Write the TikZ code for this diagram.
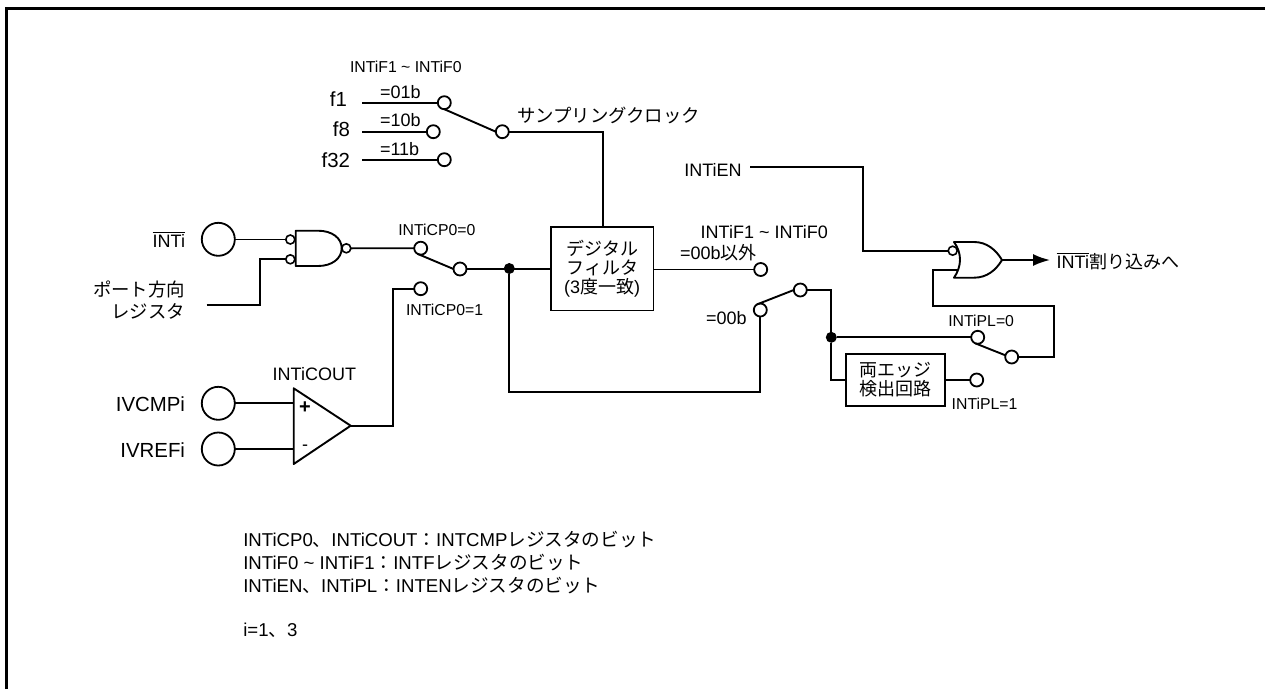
\documentclass[tikz,border=0pt]{standalone}
\usepackage{fontspec}
\setmainfont{Liberation Sans}
\newfontfamily\cjk{Noto Sans CJK JP}
\usetikzlibrary{arrows.meta}
\newcommand{\jp}[1]{{\cjk #1}}
\newcommand{\ovl}[1]{\leavevmode\vbox{\hrule height 1pt \kern 1.6pt \hbox{#1}}}
\tikzset{
  wire/.style={line width=1.9pt,line join=miter},
  term/.style={circle,draw,line width=1.8pt,fill=white,minimum size=13pt,inner sep=0pt,outer sep=0pt},
  pad/.style={circle,draw,line width=1.8pt,minimum size=33pt,inner sep=0pt,outer sep=0pt},
  bubble/.style={circle,draw,line width=1.6pt,fill=white,minimum size=9pt,inner sep=0pt,outer sep=0pt},
  dotj/.style={circle,fill=black,minimum size=11pt,inner sep=0pt,outer sep=0pt},
  box/.style={draw,line width=1.9pt,inner sep=0pt,outer sep=0pt,align=center,font=\fontsize{18}{19}\selectfont},
  lab/.style={inner sep=0pt,outer sep=0pt,anchor=base west,font=\fontsize{18}{20}\selectfont},
  labr/.style={lab,anchor=base east},
  biglab/.style={labr,font=\fontsize{20.4}{22}\selectfont},
  jplab/.style={labr,font=\fontsize{18.4}{20}\selectfont},
  notelab/.style={lab,font=\fontsize{18.6}{20}\selectfont},
  slab/.style={lab,font=\fontsize{15.8}{18}\selectfont},
  gate/.style={line width=1.9pt,line join=round,fill=white},
}
\begin{document}
\begin{tikzpicture}[x=1pt,y=-1pt]
\useasboundingbox (0,0) rectangle (1265,689);
\fill[white] (0,0) rectangle (1265,689);
% frame
\coordinate (fa) at (6.5,689); \coordinate (fb) at (6.5,8.5); \coordinate (fc) at (1265,8.5);
\draw[line width=3.2pt,line join=miter] (fa) -- (fb) -- (fc);

% clock selector
\node[slab] (tfhead) at (350,72.3) {INTiF1 \textasciitilde{} INTiF0};
\node[biglab] (tf1) at (347,106.7) {f1};
\node[biglab] (tf8) at (350,136.7) {f8};
\node[biglab] (tf32) at (350,167) {f32};
\node[lab] (t01) at (380,98.3) {=01b};
\node[lab] (t10) at (380,126.7) {=10b};
\node[lab] (t11) at (380,155.7) {=11b};
\coordinate (f1s) at (362.3,102.7);
\coordinate (f8s) at (362.3,131.7);
\coordinate (f32s) at (362.3,159.7);
\node[term] (c1) at (444.3,102.7) {};
\node[term] (c8) at (433.3,131.7) {};
\node[term] (c32) at (444.3,159.7) {};
\node[term] (ccom) at (502.3,131.7) {};
\draw[wire] (f1s) -- (c1);
\draw[wire] (f8s) -- (c8);
\draw[wire] (f32s) -- (c32);
\draw[wire] (c1.south) -- (ccom.west);
\node[lab,font=\fontsize{18.4}{20}\selectfont] (tsamp) at (517,122) {\jp{サンプリングクロック}};

% filter
\node[box,minimum width=102.5pt,minimum height=83.5pt] (filter) at (602.2,268.7)
  {\jp{デジタル}\\[-0.5pt]\jp{フィルタ}\\(3\jp{度一致})};
\coordinate (ftop) at (603.3,227);
\draw[wire] (ccom.east) -| (ftop);

% input pads
\node[labr] (tinti) at (185,247.3) {\ovl{INTi}};
\node[pad] (pinti) at (218.3,239.3) {};
\node[jplab] (tport1) at (185,296) {\jp{ポート方向}};
\node[jplab] (tport2) at (185,318) {\jp{レジスタ}};
\coordinate (ports) at (206.7,305.3);
\coordinate (portk) at (260,305.3);
\node[biglab] (tcmp) at (185,411.7) {IVCMPi};
\node[biglab] (tref) at (185,457.3) {IVREFi};
\node[pad] (pcmp) at (218.3,403.3) {};
\node[pad] (pref) at (218.3,449) {};

% NAND
\draw[gate] (295.7,230.7) -- (318,230.7) .. controls (332,230.7) and (341.7,238) .. (341.7,248.3)
  .. controls (341.7,258.5) and (332,266) .. (318,266) -- (295.7,266) -- cycle;
\node[bubble] (nin1) at (290.3,239.5) {};
\node[bubble] (nin2) at (290.3,259.3) {};
\node[bubble] (nout) at (346.3,248.3) {};
\draw[wire] (pinti.east |- nin1) -- (nin1);
\draw[wire] (ports) -- (portk) |- (nin2);

% capture selector
\node[slab] (tcp0) at (398.3,235) {INTiCP0=0};
\node[slab] (tcp1) at (406,315) {INTiCP0=1};
\node[term] (cp0) at (420.7,248.2) {};
\node[term] (cp1) at (420.7,288.7) {};
\node[term] (cpc) at (460,269) {};
\draw[wire] (nout) -- (cp0);
\draw[wire] (cp0.240) -- (cpc.west);

% comparator
\node[lab] (tcout) at (272.7,380) {INTiCOUT};
\coordinate (cmpa) at (293.7,388.3);
\coordinate (cmpb) at (293.7,464);
\coordinate (cmptip) at (350.7,425.7);
\draw[gate] (cmpa) -- (cmptip) -- (cmpb) -- cycle;
\node[inner sep=0pt,font=\fontsize{20}{20}\selectfont\bfseries] (tplus) at (305,407.7) {+};
\node[inner sep=0pt,font=\fontsize{18}{20}\selectfont] (tminus) at (305,447.5) {-};
\draw[wire] (pcmp) -- (pcmp -| cmpa);
\draw[wire] (pref) -- (pref -| cmpa);
\coordinate (cmpk) at (393.3,425.7);
\draw[wire] (cmptip) -- (cmpk) |- (cp1);

% junction 1 and feedback
\node[dotj] (j1) at (509.3,268.5) {};
\draw[wire] (cpc) -- (filter.west |- cpc);
\node[lab] (tf2) at (700.7,238.3) {INTiF1 \textasciitilde{} INTiF0};
\node[lab] (tno) at (680,259.3) {=00b\jp{以外}};
\node[lab] (tyes) at (706,324) {=00b};
\node[term] (s1) at (760.7,269.5) {};
\node[term] (s2) at (760.3,310) {};
\node[term] (sc) at (800.3,290) {};
\draw[wire] (filter.east |- s1) -- (s1);
\coordinate (fbk) at (509.3,391.7);
\draw[wire] (j1) -- (fbk) -| (s2);
\draw[wire] (s2.120) -- (sc.west);

% edge detect
\node[dotj] (j2) at (831.3,337.3) {};
\node[box,minimum width=99pt,minimum height=52.6pt] (edge) at (895.2,380)
  {\jp{両エッジ}\\\jp{検出回路}};
\node[term] (pl0) at (977.7,337.3) {};
\node[term] (pl1) at (976.7,380) {};
\node[term] (plc) at (1011.7,357) {};
\node[slab] (tpl0) at (948.3,326.7) {INTiPL=0};
\node[slab] (tpl1) at (951.7,409) {INTiPL=1};
\draw[wire] (sc) -| (j2);
\draw[wire] (j2) |- (edge.west);
\draw[wire] (j2) -- (pl0);
\draw[wire] (edge.east) -- (pl1);
\draw[wire] (pl0.250) -- (plc.165);

% NOR
\node[lab] (tien) at (684.3,176.7) {INTiEN};
\draw[gate] (954,242) -- (974,242) .. controls (987,242) and (996,250) .. (1002,260)
  .. controls (996,270) and (987,277.7) .. (974,277.7) -- (954,277.7)
  .. controls (962,266) and (962,253) .. (954,242) -- cycle;
\node[bubble] (gin) at (952.7,250.7) {};
\coordinate (ensrc) at (750.3,167.3);
\coordinate (enk) at (863.3,167.3);
\draw[wire] (ensrc) -- (enk) |- (gin);
\coordinate (gin2) at (957.7,270);
\coordinate (gk1) at (1054,357);
\coordinate (gk2) at (1054,306);
\coordinate (gk3) at (932.7,306);
\draw[wire] (plc) -- (gk1) -- (gk2) -- (gk3) |- (gin2);
\coordinate (gout) at (1002,260);
\coordinate (garr) at (1050,260);
\draw[wire,-{Latex[length=17pt,width=12pt]}] (gout) -- (garr);
\node[lab] (tint) at (1056.7,268.3) {\ovl{INTi}\jp{割り込みへ}};

% notes
\node[notelab] (n1) at (243.3,546.7) {INTiCP0\jp{、}INTiCOUT\jp{：}INTCMP\jp{レジスタのビット}};
\node[notelab] (n2) at (243.3,569.5) {INTiF0 \textasciitilde{} INTiF1\jp{：}INTF\jp{レジスタのビット}};
\node[notelab] (n3) at (243.3,592) {INTiEN\jp{、}INTiPL\jp{：}INTEN\jp{レジスタのビット}};
\node[notelab] (n4) at (243.3,636.7) {i=1\jp{、}3};
\end{tikzpicture}
\end{document}
